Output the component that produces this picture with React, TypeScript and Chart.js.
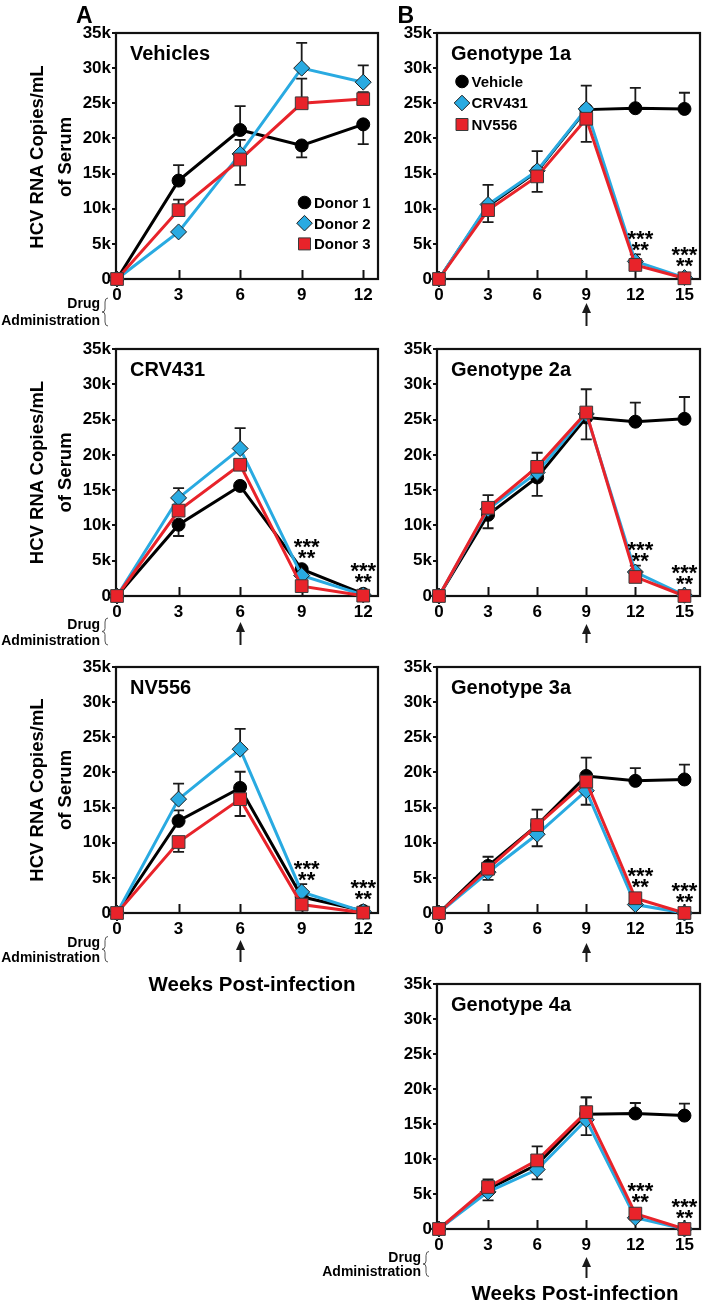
import React, { useEffect, useRef } from 'react';
import { Chart, registerables } from 'chart.js';

Chart.register(...registerables);

const FONT = '"Liberation Sans", Arial, Helvetica, sans-serif';
Chart.defaults.font.family = FONT;
Chart.defaults.color = '#000';

// ---------- data ----------
const weeksA = [0, 3, 6, 9, 12];
const weeksB = [0, 3, 6, 9, 12, 15];
const yTickValues = [0, 5000, 10000, 15000, 20000, 25000, 30000, 35000];
const yTickLabels = ['0', '5k', '10k', '15k', '20k', '25k', '30k', '35k'];

const donorNames = ['Donor 1', 'Donor 2', 'Donor 3'];
const treatNames = ['Vehicle', 'CRV431', 'NV556'];

// Panel A: Vehicles
const vehD1 = [0, 14000, 21200, 19000, 22000];
const vehD1Err = [0, 2200, 3400, -1700, -2800];
const vehD2 = [0, 6700, 17800, 30000, 28000];
const vehD2Err = [0, 0, 2000, 3600, 2400];
const vehD3 = [0, 9800, 17000, 25000, 25600];
const vehD3Err = [0, 1500, -3600, 3500, 1000];

// Panel A: CRV431
const crvD1 = [0, 10100, 15600, 3800, 300];
const crvD1Err = [0, -1600, 0, 0, 0];
const crvD2 = [0, 13900, 20900, 2900, 150];
const crvD2Err = [0, 1400, 2900, 0, 0];
const crvD3 = [0, 12100, 18600, 1400, 50];
const crvD3Err = [0, 0, 0, 0, 0];

// Panel A: NV556
const nvD1 = [0, 13100, 17800, 2300, 300];
const nvD1Err = [0, 1500, 2300, 0, 0];
const nvD2 = [0, 16200, 23300, 3000, 200];
const nvD2Err = [0, 2200, 2900, 1100, 0];
const nvD3 = [0, 10100, 16200, 1200, 50];
const nvD3Err = [0, -1400, -2400, 0, 0];

// Panel B: Genotype 1a
const g1Veh = [0, 10400, 15300, 24100, 24300, 24200];
const g1VehErr = [0, 3000, 2900, 3400, 2900, 2300];
const g1Crv = [0, 10600, 15400, 24200, 2500, 200];
const g1CrvErr = [0, 0, 0, 0, 1000, 0];
const g1Nv = [0, 9800, 14600, 22800, 2000, 100];
const g1NvErr = [0, -1700, -2200, -3300, 0, 0];

// Panel B: Genotype 2a
const g2Veh = [0, 11500, 16800, 25300, 24700, 25100];
const g2VehErr = [0, -1900, -2600, -3100, 2700, 3100];
const g2Crv = [0, 12300, 17500, 25800, 3400, 100];
const g2CrvErr = [0, 0, 0, 0, 900, 0];
const g2Nv = [0, 12500, 18300, 26000, 2700, 0];
const g2NvErr = [0, 1800, 2000, 3300, 0, 0];

// Panel B: Genotype 3a
const g3Veh = [0, 6700, 12500, 19500, 18800, 19000];
const g3VehErr = [0, 1300, 2200, 2600, 1800, 2100];
const g3Crv = [0, 5800, 11200, 17400, 1200, 0];
const g3CrvErr = [0, -1100, -1700, -2000, 0, 0];
const g3Nv = [0, 6300, 12500, 18700, 2100, 0];
const g3NvErr = [0, 0, 0, 0, 0, 0];

// Panel B: Genotype 4a
const g4Veh = [0, 5700, 9200, 16400, 16500, 16200];
const g4VehErr = [0, 0, 0, 2400, 1500, 1700];
const g4Crv = [0, 5300, 8500, 15600, 1600, 0];
const g4CrvErr = [0, -1200, -1400, -2200, 0, 0];
const g4Nv = [0, 6000, 9800, 16700, 2200, 0];
const g4NvErr = [0, 1100, 2000, 2100, 0, 0];

// ---------- styles ----------
const COLORS = ['#000000', '#29aae1', '#e8232a'];
const STYLES = ['circle', 'rectRot', 'rect'];
const RADII = [6.5, 8, 9];
const MARKER_BORDER = ['#000000', '#1d1d1d', '#3a3a3a'];

type PanelDef = {
  key: string;
  title: string;
  weeks: number[];
  names: string[];
  values: number[][];
  errs: number[][];
  legend: null | { dx: number; dy: number; gap: number };
  stars: number[];
  starSeries: number[];
  arrow: null | { week: number; tip: number; bottom: number };
  L: number;
  R: number;
  T: number;
  B: number;
  xMin: number;
  xMax: number;
};

const colA = { L: 116, R: 386, xMin: -0.05, xMax: 12.72 };
const colB = { L: 437, R: 708, xMin: -0.12, xMax: 15.95 };

const panels: PanelDef[] = [
  {
    key: 'veh', title: 'Vehicles', weeks: weeksA, names: donorNames,
    values: [vehD1, vehD2, vehD3], errs: [vehD1Err, vehD2Err, vehD3Err],
    legend: { dx: 188.5, dy: 169.5, gap: 20.7 }, stars: [], starSeries: [0, 1, 2], arrow: null,
    ...colA, T: 33, B: 279,
  },
  {
    key: 'crv', title: 'CRV431', weeks: weeksA, names: donorNames,
    values: [crvD1, crvD2, crvD3], errs: [crvD1Err, crvD2Err, crvD3Err],
    legend: null, stars: [9, 12], starSeries: [0, 1, 2], arrow: { week: 6, tip: 26, bottom: 49 },
    ...colA, T: 349, B: 596,
  },
  {
    key: 'nv', title: 'NV556', weeks: weeksA, names: donorNames,
    values: [nvD1, nvD2, nvD3], errs: [nvD1Err, nvD2Err, nvD3Err],
    legend: null, stars: [9, 12], starSeries: [0, 1, 2], arrow: { week: 6, tip: 27, bottom: 49 },
    ...colA, T: 667, B: 913,
  },
  {
    key: 'g1', title: 'Genotype 1a', weeks: weeksB, names: treatNames,
    values: [g1Veh, g1Crv, g1Nv], errs: [g1VehErr, g1CrvErr, g1NvErr],
    legend: { dx: 25, dy: 48.5, gap: 21.5 }, stars: [12, 15], starSeries: [1, 2], arrow: { week: 9, tip: 24, bottom: 47 },
    ...colB, T: 33, B: 279,
  },
  {
    key: 'g2', title: 'Genotype 2a', weeks: weeksB, names: treatNames,
    values: [g2Veh, g2Crv, g2Nv], errs: [g2VehErr, g2CrvErr, g2NvErr],
    legend: null, stars: [12, 15], starSeries: [1, 2], arrow: { week: 9, tip: 28, bottom: 47 },
    ...colB, T: 349, B: 596,
  },
  {
    key: 'g3', title: 'Genotype 3a', weeks: weeksB, names: treatNames,
    values: [g3Veh, g3Crv, g3Nv], errs: [g3VehErr, g3CrvErr, g3NvErr],
    legend: null, stars: [12, 15], starSeries: [1, 2], arrow: { week: 9, tip: 30, bottom: 49 },
    ...colB, T: 667, B: 913,
  },
  {
    key: 'g4', title: 'Genotype 4a', weeks: weeksB, names: treatNames,
    values: [g4Veh, g4Crv, g4Nv], errs: [g4VehErr, g4CrvErr, g4NvErr],
    legend: null, stars: [12, 15], starSeries: [1, 2], arrow: { week: 9, tip: 28, bottom: 49 },
    ...colB, T: 984, B: 1229,
  },
];

const PAD_TOP = 12;
const AXIS_W = 50;
const AXIS_H = 60;
const PAD_RIGHT = 2;

function drawMarker(ctx: CanvasRenderingContext2D, idx: number, x: number, y: number, r: number) {
  ctx.save();
  ctx.fillStyle = COLORS[idx];
  ctx.strokeStyle = MARKER_BORDER[idx];
  ctx.lineWidth = 1;
  ctx.beginPath();
  if (idx === 0) {
    ctx.arc(x, y, r, 0, Math.PI * 2);
  } else if (idx === 1) {
    ctx.moveTo(x, y - r);
    ctx.lineTo(x + r, y);
    ctx.lineTo(x, y + r);
    ctx.lineTo(x - r, y);
    ctx.closePath();
  } else {
    ctx.rect(x - r, y - r, 2 * r, 2 * r);
  }
  ctx.fill();
  ctx.stroke();
  ctx.restore();
}

function makeDecor(p: PanelDef) {
  return {
    id: 'decor_' + p.key,
    beforeDatasetsDraw(chart: any) {
      const { ctx, chartArea: ca } = chart;
      const x = chart.scales.x;
      const y = chart.scales.y;
      ctx.save();
      // frame
      ctx.strokeStyle = '#111';
      ctx.lineWidth = 2.2;
      ctx.strokeRect(ca.left, ca.top, ca.right - ca.left, ca.bottom - ca.top);
      // inward x ticks
      ctx.lineWidth = 2;
      p.weeks.forEach((w) => {
        if (w === 0) return;
        const px = Math.round(x.getPixelForValue(w)) + 0.5;
        ctx.beginPath();
        ctx.moveTo(px, ca.bottom);
        ctx.lineTo(px, ca.bottom - 9);
        ctx.stroke();
      });
      // error bars
      ctx.strokeStyle = '#1a1a1a';
      ctx.lineWidth = 1.8;
      p.values.forEach((vals, si) => {
        vals.forEach((v, i) => {
          const e = p.errs[si][i];
          if (!e) return;
          const px = x.getPixelForValue(p.weeks[i]);
          const y0 = y.getPixelForValue(v);
          const y1 = y.getPixelForValue(v + e);
          ctx.beginPath();
          ctx.moveTo(px, y0);
          ctx.lineTo(px, y1);
          ctx.moveTo(px - 5.5, y1);
          ctx.lineTo(px + 5.5, y1);
          ctx.stroke();
        });
      });
      ctx.restore();
    },
    afterDraw(chart: any) {
      const { ctx, chartArea: ca } = chart;
      const x = chart.scales.x;
      const y = chart.scales.y;
      ctx.save();
      // title
      ctx.fillStyle = '#000';
      ctx.font = `bold 20px ${FONT}`;
      ctx.textAlign = 'left';
      ctx.textBaseline = 'alphabetic';
      ctx.fillText(p.title, ca.left + 14, ca.top + 26.5);
      // legend
      if (p.legend) {
        const lg = p.legend;
        p.names.forEach((name, i) => {
          const cx = ca.left + lg.dx;
          const cy = ca.top + lg.dy + i * lg.gap;
          const r = i === 0 ? 6.3 : i === 1 ? 7.8 : 6;
          drawMarker(ctx, i, cx, cy, r);
          ctx.fillStyle = '#000';
          ctx.font = `bold 15px ${FONT}`;
          ctx.textAlign = 'left';
          ctx.fillText(name, cx + 9.5, cy + 5.4);
        });
      }
      // significance stars
      ctx.font = `bold 22px ${FONT}`;
      ctx.textAlign = 'center';
      ctx.fillStyle = '#000';
      p.stars.forEach((w, k) => {
        const i = p.weeks.indexOf(w);
        let maxV = 0;
        p.starSeries.forEach((s) => { maxV = Math.max(maxV, p.values[s][i]); });
        const py = y.getPixelForValue(maxV);
        const px = x.getPixelForValue(w) + (k === p.stars.length - 1 ? 0 : 5);
        ctx.fillText('***', px, py - 28 + 12.5);
        ctx.fillText('**', px, py - 17 + 12.5);
      });
      // arrow
      if (p.arrow) {
        const ax = Math.round(x.getPixelForValue(p.arrow.week)) + 0.5;
        const tip = ca.bottom + p.arrow.tip;
        const bot = ca.bottom + p.arrow.bottom;
        ctx.strokeStyle = '#1a1a1a';
        ctx.fillStyle = '#1a1a1a';
        ctx.lineWidth = 2;
        ctx.beginPath();
        ctx.moveTo(ax, tip + 8);
        ctx.lineTo(ax, bot);
        ctx.stroke();
        ctx.beginPath();
        ctx.moveTo(ax, tip);
        ctx.lineTo(ax - 4.5, tip + 10);
        ctx.lineTo(ax + 4.5, tip + 10);
        ctx.closePath();
        ctx.fill();
      }
      ctx.restore();
    },
  };
}

function Panel({ p }: { p: PanelDef }) {
  const ref = useRef<HTMLCanvasElement | null>(null);
  const cw = AXIS_W + (p.R - p.L) + PAD_RIGHT;
  const ch = PAD_TOP + (p.B - p.T) + AXIS_H;
  useEffect(() => {
    if (!ref.current) return;
    const datasets = p.values.map((vals, si) => ({
      label: p.names[si],
      data: vals.map((v, i) => ({ x: p.weeks[i], y: v })),
      borderColor: COLORS[si],
      backgroundColor: COLORS[si],
      borderWidth: 3,
      pointStyle: STYLES[si],
      pointRadius: RADII[si],
      pointBackgroundColor: COLORS[si],
      pointBorderColor: MARKER_BORDER[si],
      pointBorderWidth: 1,
      tension: 0,
      clip: false,
      order: 3 - si,
    }));
    const chart = new Chart(ref.current, {
      type: 'line',
      data: { datasets },
      options: {
        responsive: false,
        animation: false,
        devicePixelRatio: 1,
        layout: { padding: { top: PAD_TOP, right: PAD_RIGHT, left: 0, bottom: 0 } },
        plugins: { legend: { display: false }, tooltip: { enabled: false } },
        scales: {
          x: {
            type: 'linear',
            min: p.xMin,
            max: p.xMax,
            border: { display: false },
            grid: { display: false, drawTicks: false },
            afterBuildTicks: (scale: any) => {
              scale.ticks = p.weeks.map((w) => ({ value: w }));
            },
            afterFit: (scale: any) => { scale.height = AXIS_H; },
            ticks: {
              autoSkip: false,
              maxRotation: 0,
              padding: 6,
              color: '#000',
              font: { size: 17, weight: 'bold', family: FONT },
              callback: (v: any) => String(v),
            },
          },
          y: {
            type: 'linear',
            min: 0,
            max: 35000,
            border: { display: false },
            grid: { display: true, drawOnChartArea: false, drawTicks: true, tickLength: 4, color: '#111', lineWidth: 2 },
            afterBuildTicks: (scale: any) => {
              scale.ticks = yTickValues.map((v) => ({ value: v }));
            },
            afterFit: (scale: any) => { scale.width = AXIS_W; },
            ticks: {
              padding: 1,
              color: '#000',
              font: { size: 17, weight: 'bold', family: FONT },
              callback: (v: any) => {
                const idx = yTickValues.indexOf(Number(v));
                return idx >= 0 ? yTickLabels[idx] : '';
              },
            },
          },
        },
      },
      plugins: [makeDecor(p)],
    } as any);
    return () => chart.destroy();
  }, []);
  return (
    <canvas
      ref={ref}
      width={cw}
      height={ch}
      style={{ position: 'absolute', left: p.L - AXIS_W, top: p.T - PAD_TOP, width: cw, height: ch }}
    />
  );
}

function Brace({ x, y0, y1 }: { x: number; y0: number; y1: number }) {
  const ym = (y0 + y1) / 2;
  const d = `M ${x + 3} ${y0} Q ${x} ${y0} ${x} ${y0 + 4} L ${x} ${ym - 3} Q ${x} ${ym} ${x - 3} ${ym} Q ${x} ${ym} ${x} ${ym + 3} L ${x} ${y1 - 4} Q ${x} ${y1} ${x + 3} ${y1}`;
  return <path d={d} fill="none" stroke="#555" strokeWidth={1} />;
}

function DrugLabel({ xr, yDrug, yAdm, braceTop, braceBot }: { xr: number; yDrug: number; yAdm: number; braceTop: number; braceBot: number }) {
  return (
    <g>
      <text x={xr} y={yDrug} textAnchor="end" fontSize={14} fontWeight="bold">Drug</text>
      <text x={xr} y={yAdm} textAnchor="end" fontSize={14} fontWeight="bold">Administration</text>
      <Brace x={xr + 5} y0={braceTop} y1={braceBot} />
    </g>
  );
}

function YTitle({ cy }: { cy: number }) {
  return (
    <g>
      <text transform={`translate(43.3 ${cy}) rotate(-90)`} textAnchor="middle" fontSize={18.5} fontWeight="bold">HCV RNA Copies/mL</text>
      <text transform={`translate(70.5 ${cy}) rotate(-90)`} textAnchor="middle" fontSize={18.5} fontWeight="bold">of Serum</text>
    </g>
  );
}

function Overlay() {
  return (
    <svg
      width={710}
      height={1304}
      style={{ position: 'absolute', left: 0, top: 0, pointerEvents: 'none' }}
      fontFamily={FONT}
      fill="#000"
    >
      <text x={76} y={22.7} fontSize={23} fontWeight="bold">A</text>
      <text x={397.5} y={22.7} fontSize={23} fontWeight="bold">B</text>
      <YTitle cy={157} />
      <YTitle cy={472.5} />
      <YTitle cy={790} />
      <DrugLabel xr={100} yDrug={308} yAdm={324.5} braceTop={298} braceBot={326} />
      <DrugLabel xr={100} yDrug={629} yAdm={645} braceTop={618} braceBot={645} />
      <DrugLabel xr={100} yDrug={946.5} yAdm={961.7} braceTop={936.5} braceBot={962} />
      <DrugLabel xr={421} yDrug={1261.5} yAdm={1275.5} braceTop={1251.5} braceBot={1276.5} />
      <text x={252} y={991} textAnchor="middle" fontSize={20.5} fontWeight="bold">Weeks Post-infection</text>
      <text x={575} y={1300} textAnchor="middle" fontSize={20.5} fontWeight="bold">Weeks Post-infection</text>
    </svg>
  );
}

export default function App() {
  return (
    <div style={{ position: 'absolute', left: 0, top: 0, width: 710, height: 1304, overflow: 'hidden', background: '#fff' }}>
      {panels.map((p) => (
        <Panel key={p.key} p={p} />
      ))}
      <Overlay />
    </div>
  );
}
